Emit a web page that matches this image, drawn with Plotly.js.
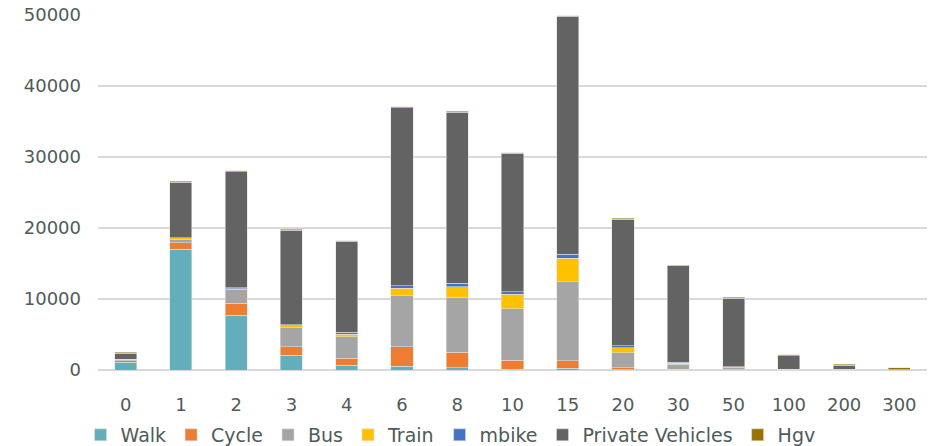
<!DOCTYPE html>
<html>
<head>
<meta charset="utf-8">
<script src="https://cdn.plot.ly/plotly-3.0.1.min.js"></script>
<style>html,body{margin:0;padding:0;background:#fff;}#chart{width:928px;height:446px;}</style>
</head>
<body>
<div id="chart"></div>
<script>
const categories = ['0','1','2','3','4','6','8','10','15','20','30','50','100','200','300'];
const walk    = [1100,17000,7700,2050,650,520,330,100,240,50,30,0,0,0,0];
const cycle   = [200,950,1700,1200,1030,2770,2150,1270,1080,240,60,30,0,0,0];
const bus     = [150,450,1880,2720,3000,7180,7740,7230,11120,2160,700,280,60,50,0];
const train   = [50,200,190,380,380,1080,1500,2070,3280,700,140,120,20,20,0];
const mbike   = [20,50,100,50,280,330,520,380,610,280,140,40,10,10,0];
const privateVehicles = [850,7800,16330,13280,12770,25070,24070,19450,33500,17830,13610,9670,1930,600,60];
const hgv     = [100,150,150,150,100,100,100,100,100,100,100,100,150,120,250];

const seriesNames = ['Walk','Cycle','Bus','Train','mbike','Private Vehicles','Hgv'];
const seriesValues = [walk,cycle,bus,train,mbike,privateVehicles,hgv];
const seriesColors = ['#63AEBB','#ED7D31','#A5A5A5','#FFC000','#4472C4','#636363','#997300'];

const traces = seriesNames.map((n,i)=>({
  type:'bar', name:n, x:categories, y:seriesValues[i],
  marker:{color:seriesColors[i], line:{color:'rgba(225,225,225,0.7)', width:0.8}}
}));

const font = {family:'DejaVu Sans, sans-serif', size:18, color:'#4F5B58'};
const layout = {
  width:928, height:446,
  margin:{l:98, r:1, t:15, b:76, autoexpand:false},
  barmode:'stack', bargap:0.6,
  paper_bgcolor:'#fff', plot_bgcolor:'#fff',
  font:font,
  showlegend:true,
  legend:{orientation:'h', x:-0.021, xanchor:'left', y:-0.183, yanchor:'middle',
          font:{family:'DejaVu Sans, sans-serif', size:19, color:'#4F5B58'},
          itemwidth:30, traceorder:'normal'},
  xaxis:{type:'category', showgrid:false, showline:false, zeroline:false, automargin:false,
         ticks:'', tickfont:font, ticklabelstandoff:22},
  yaxis:{range:[0,50000], dtick:10000, tickformat:'d', showgrid:true, automargin:false,
         gridcolor:'#d9d9d9', gridwidth:1.5, zeroline:true, zerolinecolor:'#d9d9d9',
         zerolinewidth:1.5, showline:false, ticks:'', tickfont:font, ticklabelstandoff:16}
};
Plotly.newPlot('chart', traces, layout, {displayModeBar:false, staticPlot:true});
</script>
</body>
</html>
